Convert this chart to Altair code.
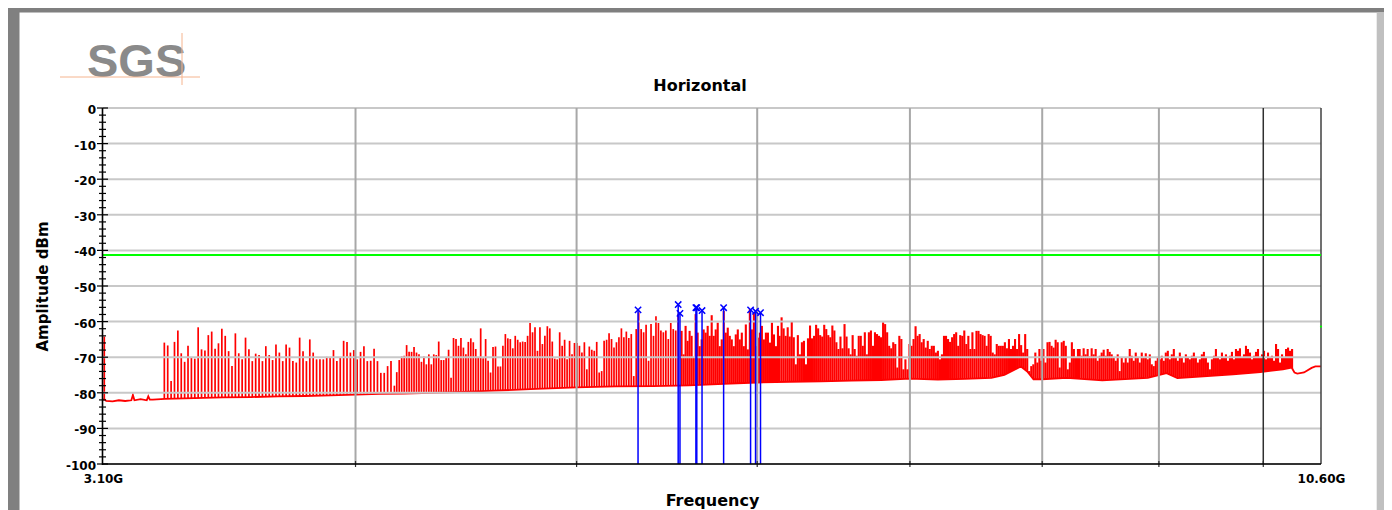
import altair as alt
import numpy as np
import pandas as pd

# ---------------- data ----------------
x_domain = [3.1, 10.6]
y_domain = [-100, 0]
x_tick_values = [3.1, 10.6]
x_tick_labels = ["3.10G", "10.60G"]
grid_freqs = [4, 5, 6, 7, 8, 9]
grid_freq_dark = [10]
border_freq = [10.6]
x_tick_marks = [4, 5, 6, 7, 8, 9, 10]
y_tick_values = [-100, -90, -80, -70, -60, -50, -40, -30, -20, -10, 0]
y_tick_labels = ["-100", "-90", "-80", "-70", "-60", "-50", "-40", "-30", "-20", "-10", "0"]
y_minor_values = [v for v in range(-100, 1, 2) if v % 10 != 0]
limit_db = [-41.3]
edge_dot_f = [10.6]
edge_dot_db = [-61.4]

# noise floor of the trace (GHz, dBm)
floor_f = [3.100, 3.104, 3.110, 3.130, 3.150, 3.170, 3.190, 3.195, 3.200, 3.220, 3.240,
           3.245, 3.250, 3.260, 3.300, 3.400, 3.500, 3.600, 3.700, 3.800, 3.900, 4.000,
           4.100, 4.200, 4.400, 4.600, 4.800, 5.000, 5.200, 5.400, 5.600, 5.800, 6.000,
           6.200, 6.400, 6.600, 6.800, 7.000, 7.200, 7.400, 7.600, 7.700, 7.780, 7.830,
           7.880, 7.930, 8.000, 8.200, 8.500, 8.900, 9.070, 9.170, 9.450, 9.700, 9.970,
           10.200, 10.290, 10.320, 10.350, 10.420, 10.500, 10.540, 10.600]
floor_db = [-82.0, -81.8, -82.3, -82.4, -82.1, -82.3, -82.1, -80.6, -82.1, -81.8, -82.1,
            -81.0, -81.9, -81.9, -81.7, -81.5, -81.3, -81.2, -81.0, -80.9, -80.7, -80.5,
            -80.3, -80.2, -79.9, -79.4, -78.9, -78.5, -78.2, -78.1, -77.9, -77.5, -77.1,
            -76.9, -76.8, -76.6, -76.4, -76.0, -76.3, -76.1, -75.8, -75.0, -73.5, -72.6,
            -74.0, -76.2, -76.2, -75.8, -76.5, -75.8, -74.5, -75.9, -75.3, -74.8, -74.2,
            -73.4, -72.9, -74.3, -74.6, -74.3, -73.0, -72.6, -72.6]

start_spike_f = [3.104]
start_spike_db = [-64.2]

# spike peaks, spread evenly (log-spaced) between the start and end frequency of each run
seg_a_range = [3.298, 4.160]
seg_a_db = [-65.9, -66.7, -76.7, -65.7, -62.5, -68.9, -71.3, -66.8, -70.1, -70.4,
            -61.6, -67.8, -68.1, -63.8, -62.8, -67.6, -66.1, -62.0, -64.0, -68.3,
            -72.5, -63.3, -68.9, -70.6, -64.5, -67.8, -71.1, -69.0, -69.4, -71.1,
            -66.9, -69.4, -70.8, -66.4, -68.7, -71.1, -66.4, -67.3, -71.1, -71.5,
            -64.5, -68.3, -71.1, -65.0, -68.7, -70.6, -70.6, -70.6, -69.9, -70.0,
            -68.0, -71.1, -70.0, -65.4, -65.7, -68.7, -68.0, -70.6, -68.5, -66.9,
            -71.1, -71.0, -67.6, -71.1, -74.4, -74.4, -72.5, -71.1, -78.0]

seg_b_range = [4.170, 5.540]
seg_b_db = [-74.2, -70.8, -69.8, -69.6, -66.6, -68.5, -68.5, -67.1, -68.7, -69.2,
            -71.3, -69.8, -72.0, -69.2, -72.0, -69.2, -69.4, -65.6, -70.8, -70.8,
            -70.1, -67.9, -75.8, -64.6, -64.9, -66.8, -64.6, -67.3, -69.2, -65.7,
            -64.7, -65.8, -67.7, -70.1, -61.9, -70.3, -64.9, -71.0, -74.3, -67.1,
            -67.0, -72.6, -72.6, -66.8, -63.5, -64.7, -64.9, -67.5, -64.0, -65.1,
            -65.8, -65.6, -65.7, -64.0, -60.4, -63.0, -61.6, -68.2, -61.6, -66.3,
            -64.0, -61.3, -61.9, -65.6, -70.4, -70.6, -63.0, -66.8, -65.1, -70.6,
            -65.4, -69.2, -66.0, -66.0, -66.8, -68.7, -65.8, -73.4, -67.0, -67.9,
            -68.2, -65.7, -74.3, -73.9, -65.4, -65.1, -63.3, -64.9, -67.3, -65.8,
            -64.4, -61.9, -64.4, -62.8, -64.6, -63.5, -75.3, -62.1, -57.4, -62.1,
            -63.0, -60.9, -71.0, -60.7, -64.0, -58.5, -60.4, -62.5, -63.0, -62.5,
            -64.9, -60.4, -62.1, -62.5, -57.8]

seg_c_range = [5.559, 6.127]
seg_c_db = [-62.6, -69.2, -61.2, -65.4, -62.6, -64.0, -70.1, -57.9, -63.1, -66.9,
            -65.0, -62.2, -63.1, -61.2, -64.0, -58.2, -64.0, -62.2, -60.3, -66.9,
            -65.0, -57.0, -63.1, -61.7, -64.0, -65.0, -66.9, -63.6, -62.2, -65.0,
            -63.1, -66.9, -60.8, -67.8, -56.5, -62.2, -57.5, -66.9, -64.5, -63.1,
            -61.2, -65.0, -63.1, -63.1, -65.9, -60.3, -63.6, -66.9, -61.2]

seg_d_range = [6.137, 8.294]
seg_d_db = [-64.0, -58.8, -61.9, -64.0, -61.6, -64.2, -60.0, -64.4, -72.0, -63.8,
            -69.2, -65.8, -65.4, -72.0, -64.7, -61.1, -64.7, -64.0, -60.9, -61.9,
            -63.8, -64.2, -60.9, -62.1, -63.8, -64.4, -61.1, -62.5, -65.8, -67.7,
            -64.2, -67.5, -60.7, -64.2, -67.5, -69.2, -63.8, -67.7, -69.6, -64.0,
            -64.0, -66.8, -63.0, -69.2, -63.0, -62.5, -66.8, -63.0, -63.5, -64.0,
            -64.4, -60.2, -60.7, -63.0, -66.8, -67.5, -65.8, -66.3, -72.9, -64.0,
            -64.9, -73.4, -70.6, -73.4, -66.3, -66.8, -64.9, -61.3, -64.0, -63.5,
            -65.8, -64.9, -67.3, -65.4, -67.7, -66.8, -66.8, -68.7, -68.2, -70.6,
            -69.2, -64.0, -64.0, -64.9, -65.7, -64.4, -63.5, -63.0, -66.8, -63.8,
            -64.0, -62.5, -66.3, -64.0, -67.7, -63.0, -67.7, -62.6, -62.6, -63.5,
            -63.8, -64.0, -66.8, -63.5, -64.0, -68.7, -69.2, -66.3, -66.8, -66.8,
            -66.8, -65.8, -67.5, -64.9, -67.7, -66.8, -64.9, -67.7, -63.5, -66.6,
            -68.7, -63.5, -67.7, -73.9, -72.5, -72.0, -68.7, -71.5, -67.7, -71.0,
            -67.7, -71.5, -65.8, -65.7, -66.8, -67.3, -65.1, -65.8, -72.9, -65.8,
            -65.4, -66.8, -73.4, -71.5, -65.8, -67.7, -70.1, -67.7]

seg_e_range = [8.308, 10.295]
seg_e_db = [-67.7, -69.6, -67.5, -69.2, -67.7, -69.8, -67.5, -69.2, -67.7, -71.0,
            -69.6, -68.7, -67.9, -69.6, -67.7, -68.5, -69.2, -70.1, -71.0, -69.2,
            -73.9, -70.1, -71.5, -70.1, -71.5, -67.7, -69.6, -71.0, -68.7, -70.1,
            -71.5, -68.7, -70.1, -68.9, -70.6, -69.2, -72.0, -72.5, -71.0, -70.1,
            -70.6, -69.6, -71.0, -68.7, -68.2, -70.6, -69.2, -67.7, -70.1, -71.0,
            -68.7, -70.1, -71.5, -69.2, -70.1, -70.6, -69.6, -68.7, -70.1, -71.5,
            -70.6, -69.2, -68.5, -70.1, -71.5, -73.4, -70.6, -69.6, -67.7, -70.1,
            -70.6, -68.7, -70.1, -69.2, -71.0, -69.6, -68.5, -70.6, -67.7, -68.2,
            -67.5, -70.1, -69.2, -66.8, -67.7, -68.7, -70.6, -69.6, -68.5, -67.7,
            -70.1, -69.2, -68.2, -70.6, -68.7, -70.1, -69.6, -71.0, -66.3, -67.7,
            -71.5, -69.2, -70.1, -67.7, -67.3, -68.2, -67.7]

# marker peaks (blue)
marker_f = [5.32, 5.54, 5.55, 5.64, 5.645, 5.675, 5.80, 5.96, 5.99, 6.02]
marker_db = [-56.7, -55.2, -57.7, -56.1, -56.1, -56.9, -56.1, -56.7, -57.1, -57.5]

# ---------------- tables ----------------
def seg_table(rng, vals):
    return pd.DataFrame({"f": np.geomspace(rng[0], rng[1], len(vals)), "db": vals})

sparse_df = pd.concat([
    pd.DataFrame({"f": start_spike_f, "db": start_spike_db}),
    seg_table(seg_a_range, seg_a_db),
    seg_table(seg_b_range, seg_b_db),
], ignore_index=True)
dense_df = pd.concat([
    seg_table(seg_c_range, seg_c_db),
    seg_table(seg_d_range, seg_d_db),
    seg_table(seg_e_range, seg_e_db),
], ignore_index=True)
floor_df = pd.DataFrame({"f": floor_f, "db": floor_db})
marker_df = pd.DataFrame({"f": marker_f, "db": marker_db})
ylab_df = pd.DataFrame({"db": y_tick_values, "lbl": y_tick_labels})
one = pd.DataFrame({"a": [0]})

W, H = 1218, 356
X_TITLE = "Frequency"
Y_TITLE = "Amplitude dBm"
xs = alt.Scale(type="log", domain=x_domain, nice=False, zero=False)
ys = alt.Scale(domain=y_domain, nice=False, zero=False)

FONT = "DejaVu Sans"
mid = (x_tick_values[0] + x_tick_values[1]) / 2
label_expr = f"datum.value < {mid} ? '{x_tick_labels[0]}' : '{x_tick_labels[1]}'"

x_axis = alt.Axis(values=x_tick_values, labelExpr=label_expr, ticks=False, grid=False,
                  domain=False, labelFont=FONT, labelFontWeight="bold",
                  labelFontSize=12, labelColor="black", labelPadding=9, labelFlush=False,
                  labelOverlap=False, titleFont=FONT, titleFontSize=16,
                  titleFontWeight="bold", titleColor="black", titlePadding=8)
y_axis = alt.Axis(values=y_tick_values, labels=False, ticks=False, grid=False, domain=False,
                  titleFont=FONT, titleFontSize=15, titleFontWeight="bold",
                  titleColor="black", titlePadding=53)


def X(axis=alt.Undefined):
    return alt.X("f:Q", scale=xs, title=X_TITLE, axis=axis)


def Y(axis=alt.Undefined):
    return alt.Y("db:Q", scale=ys, title=Y_TITLE, axis=axis)


RED = "#ff0000"

# layer that carries the axes (invisible)
axes_layer = alt.Chart(floor_df).mark_line(opacity=0).encode(
    x=X(axis=x_axis), y=Y(axis=y_axis))

spikes_sparse = alt.Chart(sparse_df).mark_rule(color=RED, strokeWidth=1.7).encode(
    x=X(), y=Y(), y2=alt.datum(-84))
spikes_dense = alt.Chart(dense_df).mark_rule(color=RED, strokeWidth=2.1).encode(
    x=X(), y=Y(), y2=alt.datum(-84))
mask = alt.Chart(floor_df).mark_area(color="white", opacity=1).encode(
    x=X(), y=Y(), y2=alt.datum(-100))
floor_line = alt.Chart(floor_df).mark_line(color=RED, strokeWidth=1.8).encode(x=X(), y=Y())

hgrid = alt.Chart(pd.DataFrame({"db": y_tick_values})).mark_rule(
    color="#c8c8c8", strokeWidth=2).encode(y=Y())
vgrid = alt.Chart(pd.DataFrame({"f": grid_freqs})).mark_rule(
    color="#a8a8a8", strokeWidth=2).encode(x=X())
vgrid_dark = alt.Chart(pd.DataFrame({"f": grid_freq_dark})).mark_rule(
    color="#303030", strokeWidth=1.5).encode(x=X())
right_border = alt.Chart(pd.DataFrame({"f": border_freq})).mark_rule(
    color="#404040", strokeWidth=1.5).encode(x=X())

limit = alt.Chart(pd.DataFrame({"db": limit_db})).mark_rule(
    color="#00ff00", strokeWidth=2).encode(y=Y())
edge_dot = alt.Chart(pd.DataFrame({"f": edge_dot_f, "db": edge_dot_db})).mark_point(
    color="#00ff00", filled=True, size=5, opacity=1).encode(x=X(), y=Y())

marker_lines = alt.Chart(marker_df).mark_rule(color="#0000ff", strokeWidth=1.5).encode(
    x=X(), y=Y(), y2=alt.datum(-100))
marker_x = alt.Chart(marker_df).mark_point(
    shape="M-1,-1L1,1M-1,1L1,-1", filled=False, color="#0000ff", strokeWidth=1.5,
    size=40, opacity=1).encode(x=X(), y=Y())

y_major_ticks = alt.Chart(pd.DataFrame({"db": y_tick_values})).mark_rule(
    color="black", strokeWidth=1.2).encode(y=Y(), x=alt.value(-6), x2=alt.value(5))
y_minor_ticks = alt.Chart(pd.DataFrame({"db": y_minor_values})).mark_rule(
    color="black", strokeWidth=1.2).encode(y=Y(), x=alt.value(-4), x2=alt.value(3))
x_ticks = alt.Chart(pd.DataFrame({"f": x_tick_marks})).mark_rule(
    color="#303030", strokeWidth=1.2).encode(x=X(), y=alt.value(H - 3), y2=alt.value(H + 3))

# y tick labels
y_labels = alt.Chart(ylab_df).mark_text(
    font=FONT, fontSize=12, fontWeight="bold", color="black", align="right",
    baseline="middle", dy=2
).encode(y=Y(), x=alt.value(-7), text="lbl:N")

# axis lines
y_domain_line = alt.Chart(one).mark_rule(color="black", strokeWidth=1.6).encode(
    x=alt.value(-0.5), y=alt.value(0), y2=alt.value(H + 1))
x_domain_line = alt.Chart(one).mark_rule(color="black", strokeWidth=1.6).encode(
    x=alt.value(-1), x2=alt.value(W), y=alt.value(H))


def prect(x0, x1, y0, y1, color):
    return alt.Chart(one).mark_rect(color=color).encode(
        x=alt.value(x0), x2=alt.value(x1), y=alt.value(y0), y2=alt.value(y1))


frame = [
    prect(-95, 1284, -100, -95.5, "#7f7f7f"),
    prect(-95, -83.5, -100, 402, "#808080"),
    prect(1273.7, 1284, -95.5, 402, "#c0c0c0"),
]

logo_text = alt.Chart(pd.DataFrame({"t": ["SGS"]})).mark_text(
    font="Liberation Sans", fontSize=47, fontWeight="bold", color="#8a8a8a",
    align="left", baseline="alphabetic"
).encode(text="t:N", x=alt.value(-16), y=alt.value(-31))
logo_h = alt.Chart(one).mark_rule(color="#f5b48e", strokeWidth=1).encode(
    x=alt.value(-43), x2=alt.value(97), y=alt.value(-31))
logo_v = alt.Chart(one).mark_rule(color="#f5b48e", strokeWidth=1).encode(
    x=alt.value(79), y=alt.value(-75), y2=alt.value(-23))

chart = alt.layer(
    axes_layer, spikes_sparse, spikes_dense, mask, floor_line, hgrid, vgrid, vgrid_dark,
    right_border, limit, edge_dot, marker_lines, marker_x, y_major_ticks, y_minor_ticks,
    x_ticks, y_labels, y_domain_line, x_domain_line, *frame, logo_text, logo_h, logo_v,
).properties(
    width=W, height=H,
    title=alt.TitleParams("Horizontal", font=FONT, fontSize=16, fontWeight="bold",
                          color="black", anchor="middle", frame="group",
                          baseline="alphabetic", offset=-99, dx=-12),
    autosize=alt.AutoSizeParams(type="none"),
    padding={"left": 95, "top": 100, "right": 63, "bottom": 46},
    background="white",
).configure_view(strokeWidth=0)

chart.save("out.html", embed_options={"renderer": "svg", "actions": False})
